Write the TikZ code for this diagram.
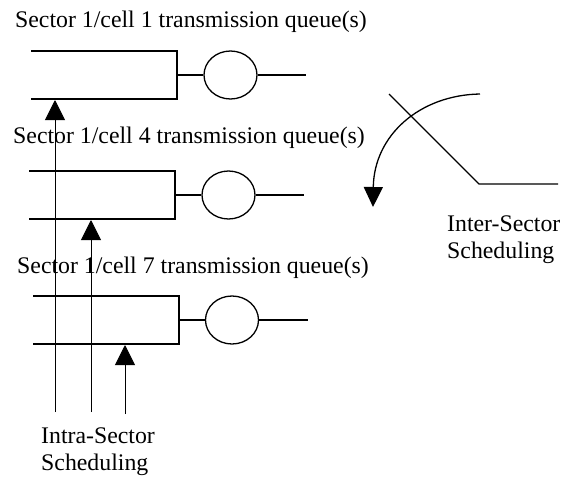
\documentclass[tikz,border=0pt]{standalone}
\usepackage{fontspec}
\setmainfont{Liberation Serif}
\usetikzlibrary{arrows.meta,shapes.geometric}
\begin{document}
\begin{tikzpicture}[x=1pt,y=-1pt,
  lbl/.style={inner sep=0pt,anchor=base west,font=\fontsize{23.8pt}{28pt}\selectfont},
  qline/.style={line width=1.3pt},
  srv/.style={draw,line width=1.3pt,ellipse,minimum width=53pt,minimum height=48pt,inner sep=0pt},
  uparrow/.style={line width=0.9pt,-{Triangle[length=20pt,width=20pt]}},
  sched/.style={inner sep=0pt,anchor=north west,align=left,font=\fontsize{23.8pt}{27pt}\selectfont}]
\useasboundingbox (0,0) rectangle (571,483);
% texts
\node[lbl] (t1) at (15,27) {Sector 1/cell 1 transmission queue(s)};
\node[lbl] (t4) at (13,143) {Sector 1/cell 4 transmission queue(s)};
\node[lbl] (t7) at (17,273) {Sector 1/cell 7 transmission queue(s)};
% queue 1
\coordinate (q1tl) at (31,51); \coordinate (q1tr) at (177,51);
\coordinate (q1bl) at (31,99); \coordinate (q1br) at (177,99);
\coordinate (q1m) at (177,75);
\node[srv] (s1) at (230.5,75) {};
\coordinate (o1) at (306,75);
\draw[qline] (q1tl) -- (q1tr) -- (q1br) -- (q1bl);
\draw[qline] (q1m) -- (s1.west);
\draw[qline] (s1.east) -- (o1);
% queue 2
\coordinate (q2tl) at (29,171); \coordinate (q2tr) at (175,171);
\coordinate (q2bl) at (29,219); \coordinate (q2br) at (175,219);
\coordinate (q2m) at (175,195);
\node[srv] (s2) at (228.5,195) {};
\coordinate (o2) at (304,195);
\draw[qline] (q2tl) -- (q2tr) -- (q2br) -- (q2bl);
\draw[qline] (q2m) -- (s2.west);
\draw[qline] (s2.east) -- (o2);
% queue 3
\coordinate (q3tl) at (33,296); \coordinate (q3tr) at (179,296);
\coordinate (q3bl) at (33,344); \coordinate (q3br) at (179,344);
\coordinate (q3m) at (179,320);
\node[srv] (s3) at (232,320) {};
\coordinate (o3) at (308,320);
\draw[qline] (q3tl) -- (q3tr) -- (q3br) -- (q3bl);
\draw[qline] (q3m) -- (s3.west);
\draw[qline] (s3.east) -- (o3);
% intra-sector arrows
\coordinate (a1s) at (55,412); \coordinate (a1e) at (55,100);
\coordinate (a2s) at (91,412); \coordinate (a2e) at (91,220);
\coordinate (a3s) at (125,414); \coordinate (a3e) at (125,345);
\draw[uparrow] (a1s) -- (a1e);
\draw[uparrow] (a2s) -- (a2e);
\draw[uparrow] (a3s) -- (a3e);
\node[sched] (intra) at (41,428) {Intra-Sector\\Scheduling};
% inter-sector switch
\coordinate (w1) at (389,94); \coordinate (w2) at (479,184); \coordinate (w3) at (558,184);
\draw[qline] (w1) -- (w2) -- (w3);
\coordinate (c1) at (480,94); \coordinate (c2) at (373,207);
\draw[line width=1.3pt,-{Triangle[length=20pt,width=19pt]}] (c1) .. controls (420,95) and (374,135) .. (c2);
\node[sched] (inter) at (447,216) {Inter-Sector\\Scheduling};
\end{tikzpicture}
\end{document}
